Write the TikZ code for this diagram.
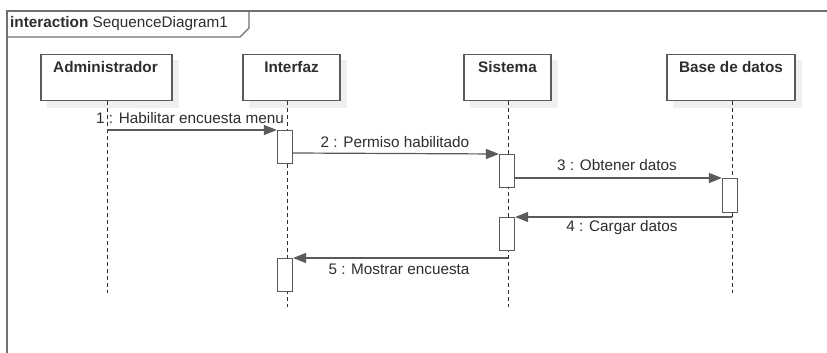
\documentclass[tikz,border=0pt]{standalone}
\usepackage{fontspec}
\setmainfont{Liberation Sans}
\usetikzlibrary{arrows.meta}
\definecolor{frm}{HTML}{707070}
\definecolor{bx}{HTML}{5A5A5A}
\definecolor{txt}{HTML}{2E2E2E}
\definecolor{shd}{HTML}{EFEFEF}
\tikzset{
  lifebox/.style={draw=bx, line width=1.2pt, fill=white, minimum width=#1, minimum height=46pt, anchor=north, inner sep=0pt},
  lifename/.style={font=\fontsize{15.3}{17}\selectfont\bfseries, text=txt},
  lifeline/.style={draw=txt, line width=0.9pt, dash pattern=on 4pt off 3pt},
  actbox/.style={draw=bx, line width=1.2pt, fill=white},
  msg/.style={draw=bx, line width=1.2pt, -{Triangle[length=13pt,width=10pt]}},
  msglabel/.style={font=\fontsize{15.3}{17}\selectfont, text=txt, inner sep=0pt}
}
\begin{document}
\begin{tikzpicture}[x=1pt,y=-1pt]
\useasboundingbox (0,0) rectangle (827,353);
\fill[white] (0,0) rectangle (827,353);
% frame
\draw[frm, line width=1.5pt] (827,11) -- (7,11) -- (7,353);
\draw[frm, line width=1.2pt] (7,37) -- (240,37) -- (249,28) -- (249,11);
\node[anchor=west, inner sep=0pt, text=txt, font=\fontsize{15.3}{17}\selectfont] (title) at (10,24) {\textbf{interaction} SequenceDiagram1};
% shadows
\foreach \a/\b in {41/172,243/340,464/551,667/795}{
  \fill[shd] (\a+6,60) rectangle (\b+7,108);
}
% lifeline boxes
\node[lifebox=131pt] (admin) at (106.5,54) {};
\node[lifebox=97pt] (inter) at (291.5,54) {};
\node[lifebox=87pt] (sist) at (507.5,54) {};
\node[lifebox=128pt] (bd) at (731,54) {};
\node[lifename, anchor=north] at (105.5,58) {Administrador};
\node[lifename, anchor=north] at (291.5,58) {Interfaz};
\node[lifename, anchor=north] at (507.5,58) {Sistema};
\node[lifename, anchor=north] at (731,58) {Base de datos};
% lifelines
\coordinate (aEnd) at (107,293);
\coordinate (iEnd) at (287,307);
\coordinate (sEnd) at (508,307);
\coordinate (bEnd) at (732,293);
\coordinate (aTop) at (107,101);
\coordinate (iTop) at (287,101);
\coordinate (sTop) at (508,101);
\coordinate (bTop) at (732,101);
\draw[lifeline] (aTop) -- (aEnd);
\draw[lifeline] (iTop) -- (iEnd);
\draw[lifeline] (sTop) -- (sEnd);
\draw[lifeline] (bTop) -- (bEnd);
% activations
\node[actbox, minimum width=15pt, minimum height=33pt, anchor=north, inner sep=0pt] (ia1) at (285,130) {};
\node[actbox, minimum width=15pt, minimum height=33pt, anchor=north, inner sep=0pt] (sa1) at (507,154) {};
\node[actbox, minimum width=15pt, minimum height=34pt, anchor=north, inner sep=0pt] (ba1) at (730,178) {};
\node[actbox, minimum width=15pt, minimum height=33pt, anchor=north, inner sep=0pt] (sa2) at (507,217) {};
\node[actbox, minimum width=15pt, minimum height=33pt, anchor=north, inner sep=0pt] (ia2) at (285,258) {};
% messages
\coordinate (m1s) at (107,130);
\draw[msg] (m1s) -- (ia1.north west);
\draw[msg] ([yshift=-23pt]ia1.north east) -- (sa1.north west);
\draw[msg] ([yshift=-24pt]sa1.north east) -- (ba1.north west);
\coordinate (m4s) at (732,217);
\draw[msg] (m4s) -- (sa2.north east);
\coordinate (m5s) at (508,258);
\draw[msg] (m5s) -- (ia2.north east);
% labels
\node[msglabel] (l1) at (190,118) {1 : Habilitar encuesta menu};
\node[msglabel] (l2) at (395,142) {2 : Permiso habilitado};
\node[msglabel] (l3) at (617,165) {3 : Obtener datos};
\node[msglabel] (l4) at (622,228) {4 : Cargar datos};
\node[msglabel] (l5) at (399,269) {5 : Mostrar encuesta};
\end{tikzpicture}
\end{document}
